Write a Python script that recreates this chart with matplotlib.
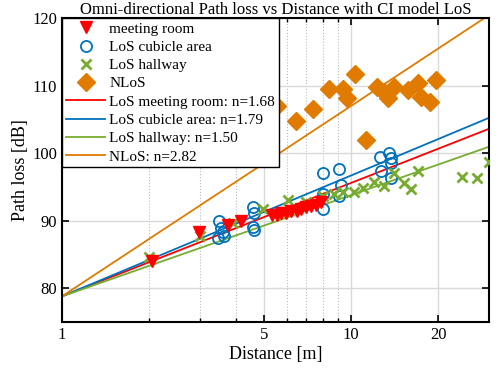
import numpy as np
import matplotlib
matplotlib.use("Agg")
import matplotlib.pyplot as plt
from matplotlib.ticker import FixedLocator, NullFormatter

plt.rcParams['font.family'] = ['Liberation Serif', 'DejaVu Serif']

meet_d = [2.05, 2.99, 3.74, 4.15, 5.32, 5.54, 5.72, 5.95, 6.19, 6.49, 6.70, 6.97, 7.26, 7.55, 7.86]
meet_pl = [84.0, 88.3, 89.3, 89.9, 90.8, 90.9, 91.2, 91.1, 91.4, 91.4, 91.8, 92.1, 92.2, 92.4, 92.8]

cub_d = [3.50, 3.55, 3.60, 3.48, 3.65, 4.57, 4.60, 4.57, 4.60, 7.99, 7.99, 7.99,
         9.09, 9.09, 9.20, 12.6, 13.5, 13.8, 13.8, 12.7, 13.8]
cub_pl = [89.9, 89.0, 88.4, 87.5, 87.8, 92.1, 91.2, 89.1, 88.6, 97.1, 93.9, 91.7,
          97.7, 93.6, 95.3, 99.5, 100.1, 99.3, 98.6, 97.3, 96.4]

hall_d = [2.0, 3.0, 3.92, 4.98, 6.04, 6.98, 7.99, 8.7, 9.36, 10.2, 11.0, 12.0, 13.0,
          14.1, 15.2, 16.1, 17.1, 24.1, 27.2, 29.9]
hall_pl = [84.7, 87.7, 89.7, 91.7, 93.1, 92.8, 93.6, 93.9, 94.2, 94.3, 94.9, 95.8, 95.2,
           97.1, 95.6, 94.7, 97.3, 96.5, 96.4, 98.7]

nlos_d = [5.53, 6.44, 7.38, 8.39, 9.38, 9.69, 10.3, 11.27, 12.3, 13.0, 13.4, 14.1,
          15.8, 17.1, 17.5, 18.8, 19.6]
nlos_pl = [107.0, 104.8, 106.5, 109.5, 109.5, 108.2, 111.7, 102.0, 109.8, 109.0, 108.2,
           109.8, 109.4, 110.4, 108.3, 107.6, 110.8]

# CI model: PL(d) = FSPL(1 m) + 10 n log10(d)
fspl_1m = 78.8
n_meet, n_cub, n_hall, n_nlos = 1.68, 1.79, 1.50, 2.82

c_red = '#ff0000'
c_blue = '#0072bd'
c_green = '#77ac30'
c_orange = '#e07b00'

fig = plt.figure(figsize=(4.99, 3.78), dpi=100)
ax = fig.add_axes([0.124, 0.148, 0.856, 0.804])

ax.plot(meet_d, meet_pl, 'v', color=c_red, markersize=8, label='meeting room', zorder=4)
ax.plot(cub_d, cub_pl, 'o', color=c_blue, mfc='none', markersize=8, mew=1.3,
        label='LoS cubicle area', zorder=3)
ax.plot(hall_d, hall_pl, 'x', color=c_green, markersize=7, mew=2, label='LoS hallway', zorder=3)
ax.plot(nlos_d, nlos_pl, 'D', color=c_orange, markersize=9, label='NLoS', zorder=3)

d = np.logspace(0, np.log10(30), 100)
ax.plot(d, fspl_1m + 10 * n_meet * np.log10(d), color=c_red, lw=1.3,
        label=f'LoS meeting room: n={n_meet:.2f}')
ax.plot(d, fspl_1m + 10 * n_cub * np.log10(d), color=c_blue, lw=1.3,
        label=f'LoS cubicle area: n={n_cub:.2f}')
ax.plot(d, fspl_1m + 10 * n_hall * np.log10(d), color=c_green, lw=1.3,
        label=f'LoS hallway: n={n_hall:.2f}')
ax.plot(d, fspl_1m + 10 * n_nlos * np.log10(d), color=c_orange, lw=1.3,
        label=f'NLoS: n={n_nlos:.2f}')

ax.set_xscale('log')
ax.set_xlim(1, 30)
ax.set_ylim(75, 120)
ax.xaxis.set_major_locator(FixedLocator([1, 5, 10, 20]))
ax.xaxis.set_minor_locator(FixedLocator([2, 3, 4, 6, 7, 8, 9]))
ax.xaxis.set_major_formatter(plt.FuncFormatter(lambda v, p: f'{v:g}'))
ax.xaxis.set_minor_formatter(NullFormatter())
ax.set_yticks([80, 90, 100, 110, 120])

ax.grid(True, which='major', color='#d9d9d9', lw=1)
ax.grid(True, which='minor', axis='x', color='#bbbbbb', lw=0.8, ls=':')
ax.set_axisbelow(True)

ax.tick_params(which='both', direction='in', top=True, right=True, labelsize=12)
ax.tick_params(which='major', length=5, width=1.2)
ax.tick_params(which='minor', length=3, width=1)
for s in ax.spines.values():
    s.set_linewidth(1.5)

ax.set_xlabel('Distance [m]', fontsize=13, labelpad=2)
ax.set_ylabel('Path loss [dB]', fontsize=13, labelpad=2)
ax.set_title('Omni-directional Path loss vs Distance with CI model LoS', fontsize=12, pad=3)

leg = ax.legend(loc='upper left', fontsize=11, handlelength=2.6, handletextpad=0.25,
                labelspacing=0.3, borderaxespad=0, fancybox=False, framealpha=1,
                edgecolor='black', borderpad=0.25)
leg.get_frame().set_linewidth(1)

fig.savefig('out.png', dpi=100)
